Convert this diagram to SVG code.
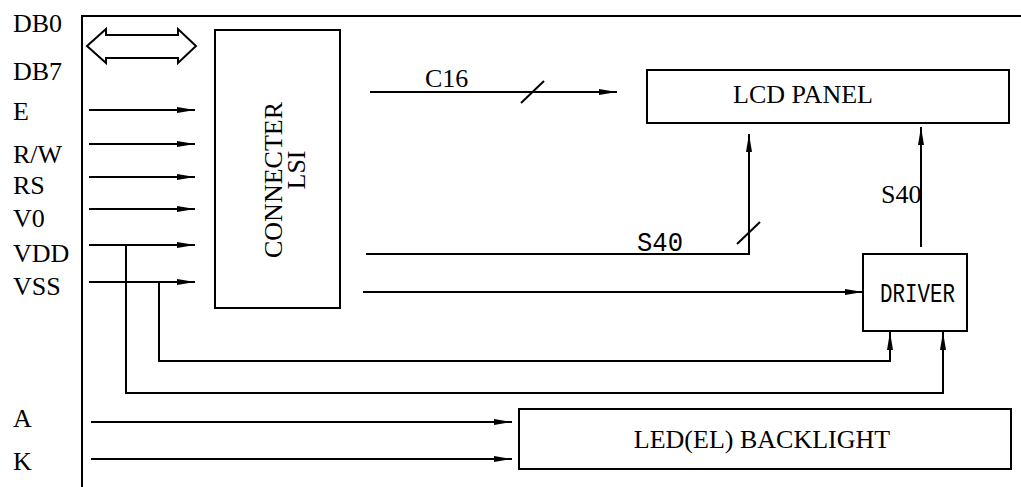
<svg xmlns="http://www.w3.org/2000/svg" width="1021" height="487" viewBox="0 0 1021 487">
<style>
.ln{fill:none;stroke:#000;stroke-width:2}
.bx{fill:#fff;stroke:#000;stroke-width:2}
.t{font-family:"Liberation Serif","Times New Roman",serif;font-size:26px;fill:#000}
.m{font-family:"Liberation Mono","DejaVu Sans Mono",monospace;font-size:28px;fill:#000}
</style>
<defs>
<marker id="ah" markerUnits="userSpaceOnUse" markerWidth="20" markerHeight="8" refX="18" refY="3.5" orient="auto" viewBox="0 0 20 8">
<path d="M0,0.5 L18,3.5 L0,6.5 z" fill="#000"/>
</marker>
</defs>
<rect width="1021" height="487" fill="#fff"/>
<g id="frame">
<path class="ln" d="M82,487 V16 H1021"/>
</g>
<g id="labels">
<text class="t" x="13" y="32">DB0</text>
<text class="t" x="13" y="80">DB7</text>
<text class="t" x="13" y="120">E</text>
<text class="t" x="13" y="163">R/W</text>
<text class="t" x="13" y="194">RS</text>
<text class="t" x="13" y="227">V0</text>
<text class="t" x="13" y="262">VDD</text>
<text class="t" x="13" y="295">VSS</text>
<text class="t" x="13" y="427">A</text>
<text class="t" x="13" y="470">K</text>
</g>
<g id="connecter-lsi">
<rect class="bx" x="215" y="30" width="125" height="278"/>
<text class="t" transform="translate(282,180) rotate(-90)" text-anchor="middle">CONNECTER</text>
<text class="t" transform="translate(305,170) rotate(-90)" text-anchor="middle">LSI</text>
</g>
<g id="lcd-panel">
<rect class="bx" x="647" y="70" width="362" height="53"/>
<text class="t" x="803" y="103" text-anchor="middle">LCD PANEL</text>
</g>
<g id="driver">
<rect class="bx" x="863" y="254" width="104" height="77"/>
<text class="m" x="880" y="302" textLength="75" lengthAdjust="spacingAndGlyphs">DRIVER</text>
</g>
<g id="backlight">
<rect class="bx" x="519" y="409" width="492" height="60"/>
<text class="t" x="762" y="448" text-anchor="middle">LED(EL) BACKLIGHT</text>
</g>
<g id="connectors">
<polygon class="ln" points="87,46 106,29 106,35 178,35 178,29 196,46 178,63 178,58 106,58 106,63"/>
<line class="ln" x1="89" y1="110" x2="195" y2="110" marker-end="url(#ah)"/>
<line class="ln" x1="89" y1="144" x2="195" y2="144" marker-end="url(#ah)"/>
<line class="ln" x1="89" y1="177" x2="195" y2="177" marker-end="url(#ah)"/>
<line class="ln" x1="89" y1="209" x2="195" y2="209" marker-end="url(#ah)"/>
<line class="ln" x1="89" y1="245" x2="195" y2="245" marker-end="url(#ah)"/>
<line class="ln" x1="89" y1="282" x2="195" y2="282" marker-end="url(#ah)"/>
<path class="ln" d="M126,245 V393 H943 V332" marker-end="url(#ah)"/>
<path class="ln" d="M159,282 V361 H890 V332" marker-end="url(#ah)"/>
<line class="ln" x1="370" y1="92" x2="617" y2="92" marker-end="url(#ah)"/>
<line class="ln" x1="521" y1="103" x2="544" y2="81"/>
<text class="t" x="425" y="87">C16</text>
<path class="ln" d="M366,254 H749 V134" marker-end="url(#ah)"/>
<line class="ln" x1="737" y1="244" x2="760" y2="222"/>
<text class="m" x="637" y="251" textLength="46" lengthAdjust="spacingAndGlyphs">S40</text>
<line class="ln" x1="363" y1="292" x2="863" y2="292" marker-end="url(#ah)"/>
<line class="ln" x1="921" y1="247" x2="921" y2="127" marker-end="url(#ah)"/>
<text class="t" x="881" y="203">S40</text>
<line class="ln" x1="91" y1="422" x2="512" y2="422" marker-end="url(#ah)"/>
<line class="ln" x1="91" y1="459" x2="512" y2="459" marker-end="url(#ah)"/>
</g>
</svg>
